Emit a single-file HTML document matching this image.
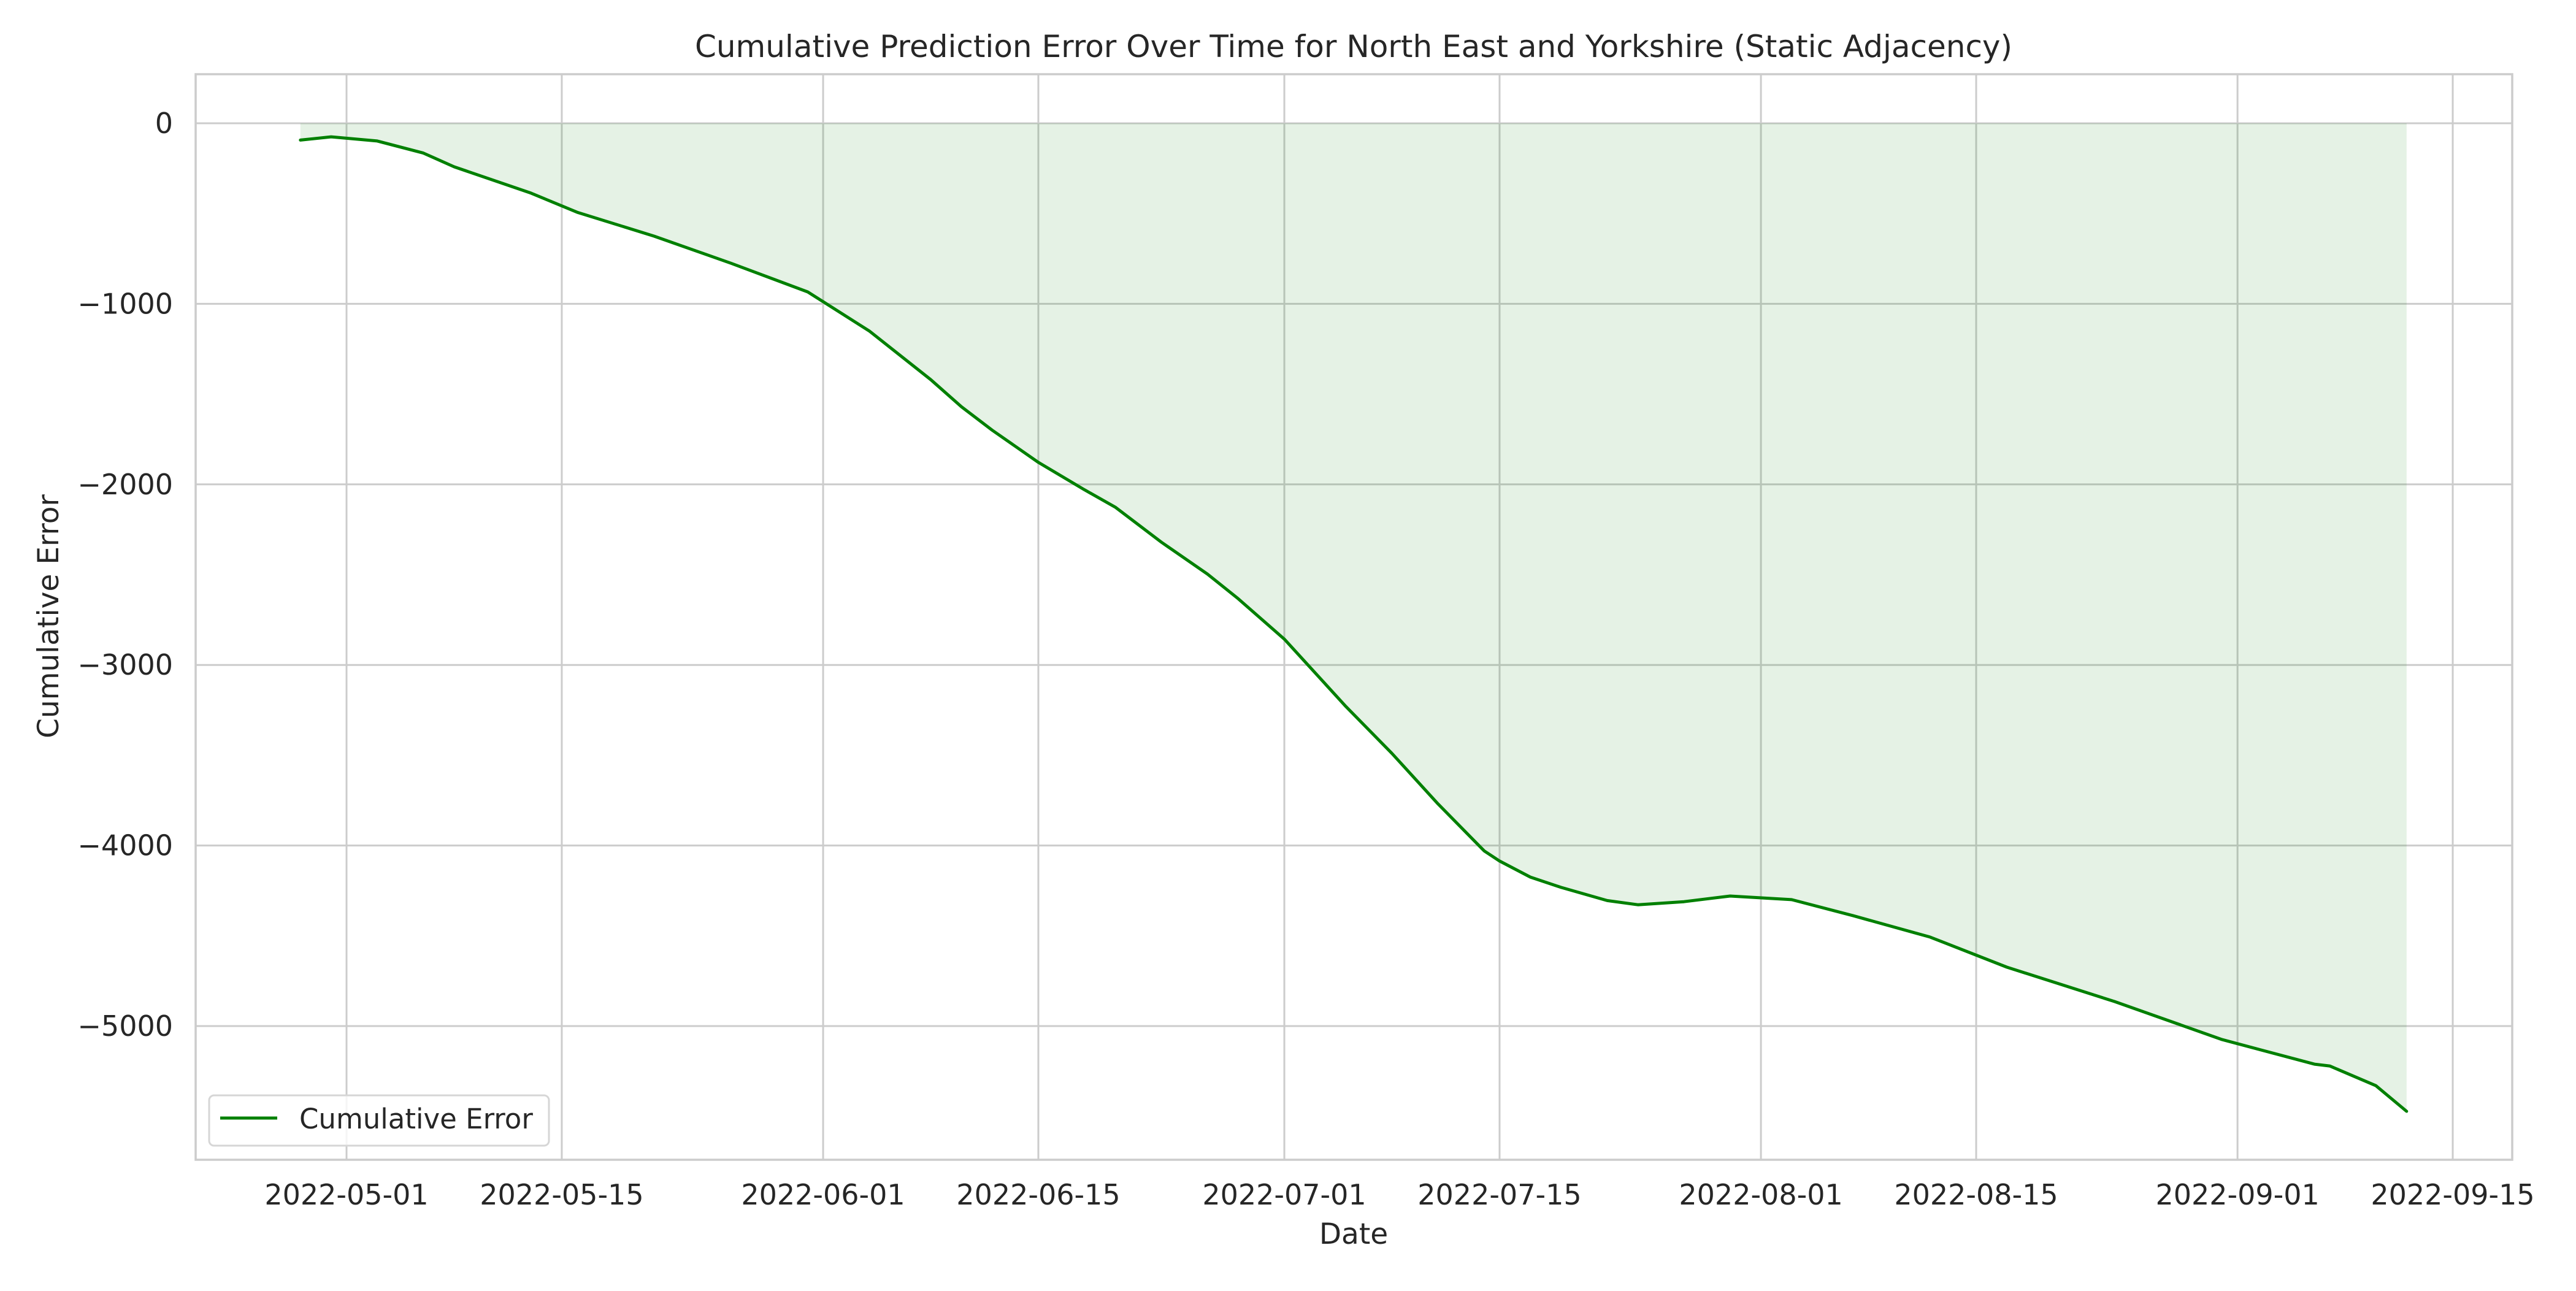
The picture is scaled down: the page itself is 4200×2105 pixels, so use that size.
<!DOCTYPE html>
<html><head><meta charset="utf-8"><style>
body{margin:0;background:#fff}
svg text{font-family:"DejaVu Sans","Liberation Sans",sans-serif;fill:#262626}
</style></head><body>
<svg id="chart" width="4200" height="2100" viewBox="0 0 4200 2100" xmlns="http://www.w3.org/2000/svg">
<rect width="4200" height="2100" fill="#fff"/>
<text x="2207" y="93" font-size="50" text-anchor="middle">Cumulative Prediction Error Over Time for North East and Yorkshire (Static Adjacency)</text>
<g id="grid"></g>
<g id="plot"></g>
<rect x="319" y="121" width="3777" height="1770" fill="none" stroke="#cccccc" stroke-width="3.5"/>
<g id="ticks"></g>
<text x="2207" y="2028" font-size="47" text-anchor="middle">Date</text>
<text transform="translate(95,1005) rotate(-90)" font-size="47" text-anchor="middle">Cumulative Error</text>
<g>
<rect x="341" y="1786" width="554" height="82" rx="8" fill="#fff" fill-opacity="0.8" stroke="#d6d6d6" stroke-width="3"/>
<line x1="359" y1="1823" x2="452" y2="1823" stroke="#008000" stroke-width="5"/>
<text x="488" y="1840" font-size="45">Cumulative Error</text>
</g>
</svg>
<script>
const dates = ["2022-04-28","2022-04-30","2022-05-03","2022-05-06","2022-05-08","2022-05-13","2022-05-16","2022-05-21","2022-05-26","2022-05-31","2022-06-04","2022-06-08","2022-06-10","2022-06-12","2022-06-15","2022-06-18","2022-06-20","2022-06-23","2022-06-26","2022-06-28","2022-07-01","2022-07-05","2022-07-08","2022-07-11","2022-07-14","2022-07-15","2022-07-17","2022-07-19","2022-07-22","2022-07-24","2022-07-27","2022-07-30","2022-08-03","2022-08-07","2022-08-12","2022-08-17","2022-08-24","2022-08-31","2022-09-06","2022-09-07","2022-09-10","2022-09-12"];
const errors = [-93,-75,-98,-165,-241,-387,-493,-625,-775,-934,-1150,-1420,-1570,-1700,-1878,-2030,-2126,-2320,-2497,-2633,-2857,-3230,-3490,-3770,-4030,-4086,-4175,-4232,-4305,-4328,-4311,-4280,-4300,-4389,-4507,-4674,-4864,-5075,-5211,-5221,-5330,-5472];
const yTicks = [0,-1000,-2000,-3000,-4000,-5000];
const xTicks = ["2022-05-01","2022-05-15","2022-06-01","2022-06-15","2022-07-01","2022-07-15","2022-08-01","2022-08-15","2022-09-01","2022-09-15"];

const NS="http://www.w3.org/2000/svg";
const dayMs=86400000, ref=Date.UTC(2022,4,1);
function dnum(s){const p=s.split("-");return (Date.UTC(+p[0],+p[1]-1,+p[2])-ref)/dayMs;}
const xScale=d=>565+dnum(d)*25.066;
const yScale=v=>201-v*0.2944;
function mk(tag,attrs,parent){const e=document.createElementNS(NS,tag);for(const k in attrs)e.setAttribute(k,attrs[k]);parent.appendChild(e);return e;}
const grid=document.getElementById("grid"),plot=document.getElementById("plot"),ticks=document.getElementById("ticks");
yTicks.forEach(v=>{
  const y=yScale(v);
  const l=mk("line",{x1:319,x2:4096,y1:y,y2:y,stroke:"#cccccc","stroke-width":3},grid);
  
  
  const t=mk("text",{x:282,y:y+16,"font-size":46,"text-anchor":"end"},ticks);
  t.textContent=v<0?"\u2212"+Math.abs(v):String(v);
  
  
});
xTicks.forEach(d=>{
  const x=xScale(d);
  const l=mk("line",{x1:x,x2:x,y1:121,y2:1891,stroke:"#cccccc","stroke-width":3},grid);
  
  
  const t=mk("text",{x:x,y:1964,"font-size":46,"text-anchor":"middle"},ticks);
  t.textContent=d;
  
  
});
let pts=dates.map((d,i)=>xScale(d).toFixed(1)+","+yScale(errors[i]).toFixed(1));
const x0=xScale(dates[0]),x1=xScale(dates[dates.length-1]);
const area=mk("path",{d:"M"+x0+","+yScale(0)+" L"+pts.join(" L")+" L"+x1+","+yScale(0)+"Z",fill:"#008000","fill-opacity":0.1},plot);


const line=mk("polyline",{points:pts.join(" "),fill:"none",stroke:"#008000","stroke-width":5,"stroke-linejoin":"round","stroke-linecap":"round"},plot);


</script>
</body></html>
